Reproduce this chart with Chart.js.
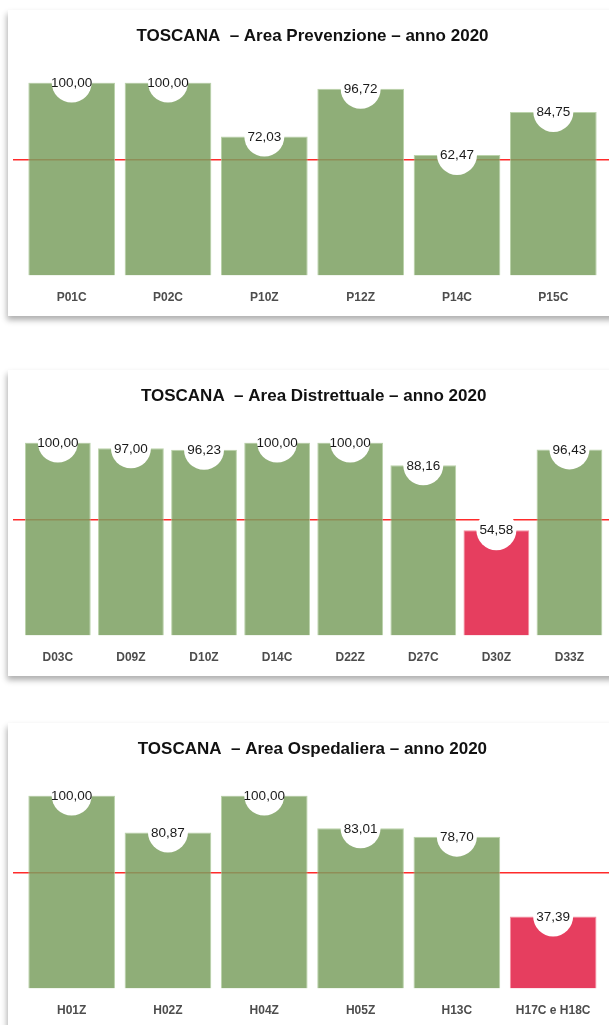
<!DOCTYPE html>
<html><head><meta charset="utf-8">
<script src="https://cdn.jsdelivr.net/npm/chart.js@4.4.0/dist/chart.umd.min.js"></script>
<style>
html,body{margin:0;padding:0;background:#fff;width:609px;height:1025px;overflow:hidden;font-family:"Liberation Sans",Arial,sans-serif;}
.card{position:absolute;left:8px;width:700px;height:306px;background:#fff;box-shadow:-1px 4px 6px rgba(0,0,0,0.32);}
.card canvas{position:absolute;left:0;top:0;}
</style></head>
<body>
<div class="card" style="top:9.5px"><canvas id="c1" width="601" height="322"></canvas></div>
<div class="card" style="top:369.5px"><canvas id="c2" width="601" height="322"></canvas></div>
<div class="card" style="top:722.5px"><canvas id="c3" width="601" height="322"></canvas></div>
<script>
const threshold = 60;

const prevTitle = "TOSCANA  \u2013 Area Prevenzione \u2013 anno 2020";
const prevCategories = ["P01C", "P02C", "P10Z", "P12Z", "P14C", "P15C"];
const prevValues = [100.00, 100.00, 72.03, 96.72, 62.47, 84.75];

const distTitle = "TOSCANA  \u2013 Area Distrettuale \u2013 anno 2020";
const distCategories = ["D03C", "D09Z", "D10Z", "D14C", "D22Z", "D27C", "D30Z", "D33Z"];
const distValues = [100.00, 97.00, 96.23, 100.00, 100.00, 88.16, 54.58, 96.43];

const ospTitle = "TOSCANA  \u2013 Area Ospedaliera \u2013 anno 2020";
const ospCategories = ["H01Z", "H02Z", "H04Z", "H05Z", "H13C", "H17C e H18C"];
const ospValues = [100.00, 80.87, 100.00, 83.01, 78.70, 37.39];

const GREEN = 'rgba(123,160,96,0.85)';
const RED = 'rgba(226,28,67,0.85)';
const GREEN_B = 'rgba(170,200,150,0.8)';
const RED_B = 'rgba(240,120,140,0.8)';

Chart.defaults.font.family = '"Liberation Sans", Arial, sans-serif';

const thresholdLine = {
  id: 'thresholdLine',
  beforeDatasetsDraw(chart) {
    const ctx = chart.ctx;
    const y = chart.scales.y.getPixelForValue(threshold);
    ctx.save();
    ctx.strokeStyle = '#ff2b2b';
    ctx.lineWidth = 1.6;
    ctx.beginPath();
    ctx.moveTo(5, y);
    ctx.lineTo(chart.width, y);
    ctx.stroke();
    ctx.restore();
  }
};

const valueLabels = {
  id: 'valueLabels',
  afterDatasetsDraw(chart) {
    const ctx = chart.ctx;
    const meta = chart.getDatasetMeta(0);
    const vals = chart.data.datasets[0].data;
    ctx.save();
    meta.data.forEach((bar, i) => {
      ctx.fillStyle = '#ffffff';
      ctx.beginPath();
      ctx.arc(bar.x, bar.y, 20, 0, Math.PI * 2);
      ctx.fill();
      ctx.fillStyle = '#1a1a1a';
      ctx.font = '13.5px "Liberation Sans", Arial, sans-serif';
      ctx.textAlign = 'center';
      ctx.textBaseline = 'middle';
      ctx.fillText(vals[i].toFixed(2).replace('.', ','), bar.x, bar.y + 0.5);
    });
    ctx.restore();
  }
};

function makeChart(id, title, labels, values, padL, padR) {
  new Chart(document.getElementById(id), {
    type: 'bar',
    data: {
      labels: labels,
      datasets: [{
        data: values,
        backgroundColor: values.map(v => v < threshold ? RED : GREEN),
        borderColor: values.map(v => v < threshold ? RED_B : GREEN_B),
        borderWidth: 1,
        barPercentage: 0.9,
        categoryPercentage: 1.0
      }]
    },
    options: {
      responsive: false,
      animation: false,
      devicePixelRatio: 1,
      layout: { padding: { left: padL, right: padR, top: 0, bottom: 12 } },
      plugins: {
        legend: { display: false },
        tooltip: { enabled: false },
        title: {
          display: true,
          text: title,
          color: '#111',
          font: { size: 17, weight: 'bold' },
          padding: { top: 16.5, bottom: 35.6 }
        }
      },
      scales: {
        x: {
          grid: { display: false, drawTicks: false },
          border: { display: false },
          ticks: { color: '#4d4d4d', font: { size: 12, weight: 'bold' }, padding: 15 }
        },
        y: { display: false, min: 0, max: 100 }
      }
    },
    plugins: [thresholdLine, valueLabels]
  });
}

makeChart('c1', prevTitle, prevCategories, prevValues, 15.5, 7.5);
makeChart('c2', distTitle, distCategories, distValues, 13.3, 3);
makeChart('c3', ospTitle, ospCategories, ospValues, 15.5, 7.7);
</script>
</body></html>
